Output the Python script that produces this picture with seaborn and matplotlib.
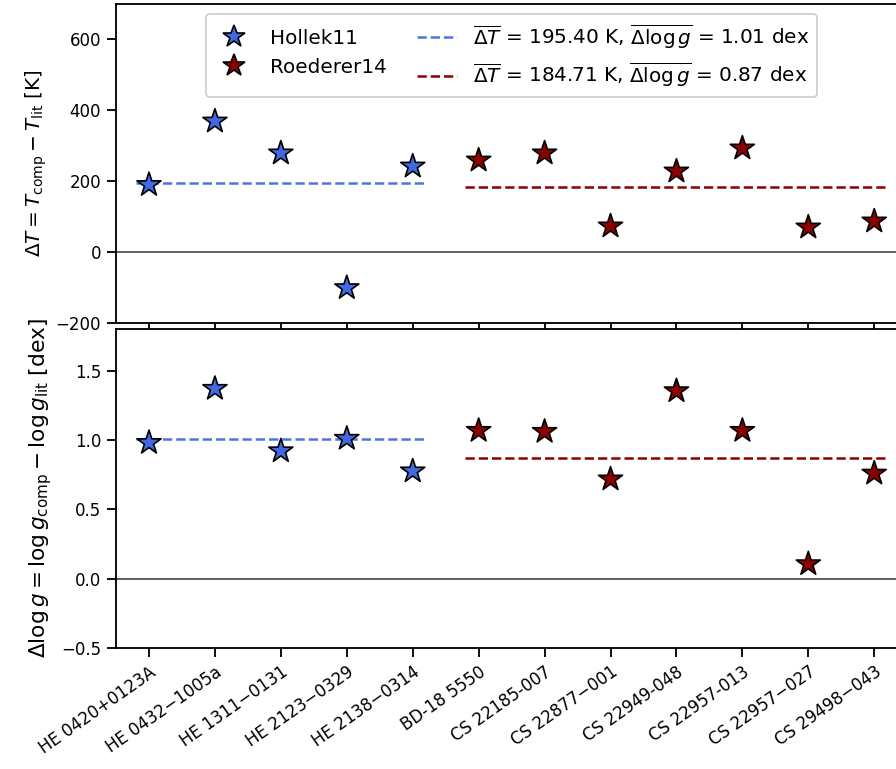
import pandas as pd
import matplotlib.pyplot as plt
import seaborn as sns
from matplotlib.lines import Line2D

sns.set_style("ticks")
plt.rcParams['font.family'] = ['DejaVu Sans']
plt.rcParams.update({'text.color': 'black', 'axes.labelcolor': 'black',
                     'xtick.color': 'black', 'ytick.color': 'black'})

# star names (x axis)
stars_hollek = ['HE 0420+0123A', 'HE 0432\u22121005a', 'HE 1311\u22120131',
                'HE 2123\u22120329', 'HE 2138\u22120314']
stars_roederer = ['BD-18 5550', 'CS 22185-007', 'CS 22877\u2212001', 'CS 22949-048',
                  'CS 22957-013', 'CS 22957\u2212027', 'CS 29498\u2212043']

# differences
dT_hollek = [190, 369, 279, -101, 242]
dT_roederer = [259, 279, 73, 228, 293, 70, 87]
dlogg_hollek = [0.98, 1.37, 0.92, 1.01, 0.775]
dlogg_roederer = [1.067, 1.06, 0.717, 1.353, 1.067, 0.106, 0.759]

# sample means (as quoted in legend)
groups = ['Hollek11', 'Roederer14']
mean_dT = [195.40, 184.71]
mean_dlogg = [1.01, 0.87]
colors = {'Hollek11': 'royalblue', 'Roederer14': 'darkred'}
line_colors = {'Hollek11': '#4a74e8', 'Roederer14': 'darkred'}

df = pd.DataFrame({
    'star': stars_hollek + stars_roederer,
    'dT': dT_hollek + dT_roederer,
    'dlogg': dlogg_hollek + dlogg_roederer,
    'source': ['Hollek11'] * len(stars_hollek) + ['Roederer14'] * len(stars_roederer),
})
df['idx'] = range(len(df))

fig = plt.figure(figsize=(896 / 120, 769 / 120), dpi=120)
ax1 = fig.add_axes([0.1295, 0.58, 0.883, 0.4148])
ax2 = fig.add_axes([0.1295, 0.1573, 0.883, 0.4149], sharex=ax1)

for ax, col, means in [(ax1, 'dT', mean_dT), (ax2, 'dlogg', mean_dlogg)]:
    ax.axhline(0, color='#444444', lw=1.0, zorder=1)
    sns.scatterplot(data=df, x='idx', y=col, hue='source', palette=colors,
                    marker='*', s=230, edgecolor='black', linewidth=1.0,
                    ax=ax, legend=False, zorder=3)
    for i, g in enumerate(groups):
        sub = df[df['source'] == g]
        lab = (r'$\overline{\Delta T}$ = %.2f K, $\overline{\Delta \log g}$ = %.2f dex'
               % (mean_dT[i], mean_dlogg[i]))
        ax.hlines(means[i], sub['idx'].min() - 0.2, sub['idx'].max() + 0.2,
                  colors=line_colors[g], linestyles='--', lw=1.5, zorder=2, label=lab)
    ax.tick_params(labelsize=10, length=5.5, width=1.1)
    for s in ax.spines.values():
        s.set_linewidth(1.1)
        s.set_color('black')

ax1.set_ylim(-200, 700)
ax1.set_yticks([-200, 0, 200, 400, 600])
ax2.set_ylim(-0.5, 1.8)
ax2.set_yticks([-0.5, 0.0, 0.5, 1.0, 1.5])
ax1.set_xlim(-0.5, 11.5)
ax2.set_xticks(df['idx'])
ax2.set_xticklabels(df['star'], rotation=35, ha='right', rotation_mode='anchor')
ax1.tick_params(labelbottom=False)

ax1.set_xlabel('')
ax2.set_xlabel('')
ax1.set_ylabel(r'$\Delta T = T_{\rm comp} - T_{\rm lit}$ [K]', fontsize=12)
ax2.set_ylabel(r'$\Delta \log g = \log g_{\rm comp} - \log g_{\rm lit}$ [dex]', fontsize=13)

# legend: star handles in first column, mean lines in second
handles = [Line2D([], [], ls='none', marker='*', ms=14, mfc=colors[g], mec='black', mew=1.0)
           for g in groups]
line_handles, line_labels = ax1.get_legend_handles_labels()
ax1.legend(handles + line_handles, groups + line_labels, loc='upper center',
           ncol=2, fontsize=12, framealpha=1, edgecolor='#cccccc', columnspacing=1.5)

fig.savefig('out.png', dpi=120)
